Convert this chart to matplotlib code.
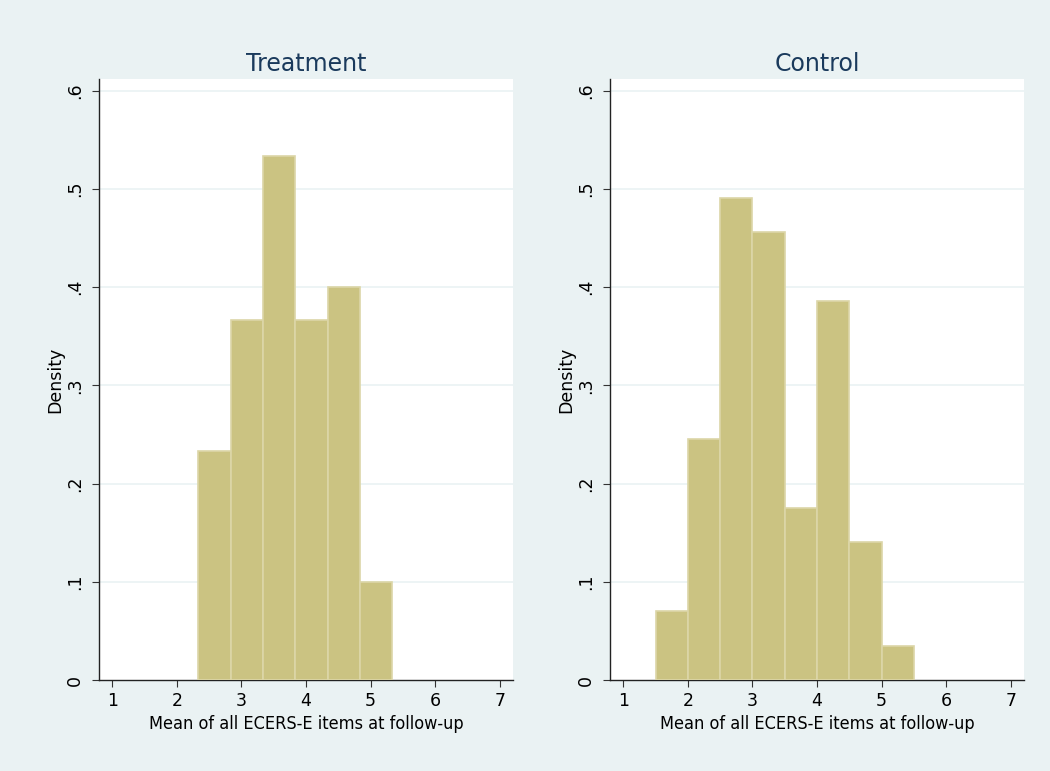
import matplotlib
matplotlib.use("Agg")
import matplotlib.pyplot as plt
import numpy as np

# Data
bin_width = 0.5
treat_start = 2.3333
treat_density = [0.2333, 0.3667, 0.5333, 0.3667, 0.4000, 0.1000]
ctrl_start = 1.5
ctrl_density = [0.0702, 0.2456, 0.4912, 0.4561, 0.1754, 0.3860, 0.1404, 0.0351]
panel_titles = ["Treatment", "Control"]
x_ticks = [1, 2, 3, 4, 5, 6, 7]
y_ticks = [0, 0.1, 0.2, 0.3, 0.4, 0.5, 0.6]
y_ticklabels = ["0", ".1", ".2", ".3", ".4", ".5", ".6"]
x_label = "Mean of all ECERS-E items at follow-up"
y_label = "Density"

BG = "#EAF2F3"
FILL = "#CBC382"
EDGE = "#DCD6A8"
TITLE_C = "#1A3A5C"

W, H = 1050, 771
fig = plt.figure(figsize=(W / 100, H / 100), dpi=100, facecolor=BG)

panels = [
    (99.3, treat_start, treat_density, panel_titles[0]),
    (610.3, ctrl_start, ctrl_density, panel_titles[1]),
]
for left_px, start, dens, title in panels:
    ax = fig.add_axes([left_px / W, 1 - 680 / H, (512.7 - 99.3) / W, (680 - 79) / H])
    ax.set_facecolor("white")
    edges = start + bin_width * np.arange(len(dens))
    ax.bar(edges, dens, width=bin_width, align="edge", color=FILL,
           edgecolor=EDGE, linewidth=1.2, zorder=3)
    ax.set_xlim(0.8, 7.2)
    ax.set_ylim(0, 0.612)
    for yv in y_ticks[1:]:
        ax.axhline(yv, color=BG, linewidth=1.2, zorder=1)
    ax.set_xticks(x_ticks)
    ax.set_xticklabels([str(v) for v in x_ticks], fontsize=12.5)
    ax.set_yticks(y_ticks)
    ax.set_yticklabels(y_ticklabels, fontsize=12.5, rotation=90, va="center")
    ax.tick_params(axis="both", direction="out", length=5, width=0.8,
                   color="#333333", pad=4)
    ax.tick_params(axis="y", pad=6)
    for s in ["top", "right"]:
        ax.spines[s].set_visible(False)
    for s in ["left", "bottom"]:
        ax.spines[s].set_color("#222222")
        ax.spines[s].set_linewidth(1.0)
    ax.set_xlabel(x_label, fontsize=13, fontstretch="condensed", labelpad=3)
    ax.set_ylabel(y_label, fontsize=12.5, labelpad=1)
    ax.set_title(title, fontsize=17, color=TITLE_C, pad=6)

fig.savefig("out.png", dpi=100, facecolor=BG)
